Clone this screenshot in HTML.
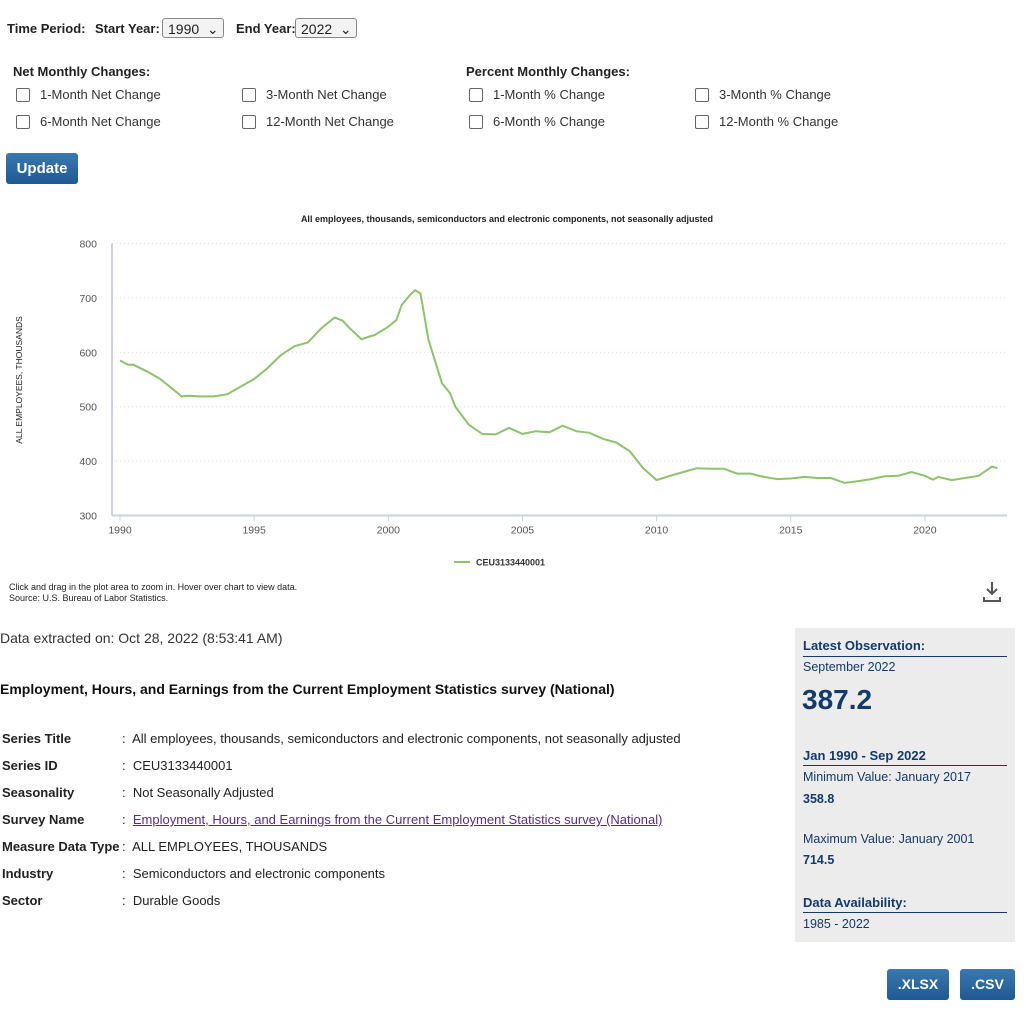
<!DOCTYPE html>
<html><head><meta charset="utf-8"><style>
body{margin:0;width:1026px;height:1016px;background:#fff;font-family:"Liberation Sans",sans-serif;color:#222;position:relative;overflow:hidden}
.a{position:absolute;white-space:nowrap}
.b{font-weight:bold;font-size:13px}
.sel{position:absolute;height:20px;border:1px solid #888;border-radius:3px;background:#f3f3f3;font-size:14px;line-height:20px;padding-left:5px;box-sizing:border-box}
.cb{position:absolute;width:12px;height:12px;border:1px solid #666;border-radius:2px;background:#fff}
.lbl{position:absolute;font-size:13px;color:#333}
.btn{position:absolute;background:linear-gradient(#3a78b0,#1f5a92);color:#fff;font-weight:bold;border-radius:3px;text-align:center}
.k{position:absolute;left:2px;font-weight:bold;font-size:13px}
.v{position:absolute;left:122px;font-size:13px}
</style></head><body>
<div class="a b" style="left:7px;top:21px">Time Period:</div>
<div class="a b" style="left:95px;top:21px">Start Year:</div>
<div class="sel" style="left:162px;top:18px;width:62px">1990 &nbsp;⌄</div>
<div class="a b" style="left:236px;top:21px">End Year:</div>
<div class="sel" style="left:295px;top:18px;width:62px">2022 &nbsp;⌄</div>
<div class="a b" style="left:13px;top:64px">Net Monthly Changes:</div>
<div class="a b" style="left:466px;top:64px">Percent Monthly Changes:</div>
<div class="cb" style="left:16px;top:88px"></div><div class="lbl" style="left:40px;top:87px">1-Month Net Change</div>
<div class="cb" style="left:242px;top:88px"></div><div class="lbl" style="left:266px;top:87px">3-Month Net Change</div>
<div class="cb" style="left:469px;top:88px"></div><div class="lbl" style="left:493px;top:87px">1-Month % Change</div>
<div class="cb" style="left:695px;top:88px"></div><div class="lbl" style="left:719px;top:87px">3-Month % Change</div>
<div class="cb" style="left:16px;top:115px"></div><div class="lbl" style="left:40px;top:114px">6-Month Net Change</div>
<div class="cb" style="left:242px;top:115px"></div><div class="lbl" style="left:266px;top:114px">12-Month Net Change</div>
<div class="cb" style="left:469px;top:115px"></div><div class="lbl" style="left:493px;top:114px">6-Month % Change</div>
<div class="cb" style="left:695px;top:115px"></div><div class="lbl" style="left:719px;top:114px">12-Month % Change</div>
<div class="btn" style="left:6px;top:153px;width:72px;height:31px;line-height:31px;font-size:15px">Update</div>

<svg class="a" style="left:0;top:200px" width="1026" height="420" id="chart">
<text x="507" y="22" text-anchor="middle" font-size="9" font-weight="bold" fill="#222">All employees, thousands, semiconductors and electronic components, not seasonally adjusted</text>
<text transform="translate(22,180) rotate(-90)" text-anchor="middle" font-size="8.5" fill="#222">ALL EMPLOYEES, THOUSANDS</text>
<g id="grid"></g><g id="xt"></g>
<path id="line" fill="none" stroke="#8cc46a" stroke-width="2"/>
<line x1="454" y1="362" x2="470" y2="362" stroke="#8cc46a" stroke-width="2"/>
<text x="476" y="365.5" font-size="9" font-weight="bold" fill="#333">CEU3133440001</text>
</svg>
<div class="a" style="left:9px;top:582px;font-size:9px;line-height:11px">Click and drag in the plot area to zoom in. Hover over chart to view data.<br>Source: U.S. Bureau of Labor Statistics.</div>
<svg class="a" style="left:982px;top:581px" width="20" height="22"><path d="M10 1v12M5 8l5 5 5-5M2 16v4h16v-4" stroke="#555" stroke-width="2" fill="none"/></svg>

<div class="a" style="left:0;top:630px;font-size:14px;color:#333">Data extracted on: Oct 28, 2022 (8:53:41 AM)</div>
<div class="a" style="left:0;top:681px;font-size:14px;font-weight:bold;color:#111">Employment, Hours, and Earnings from the Current Employment Statistics survey (National)</div>
<div class="a" style="left:0;top:731px;width:780px;height:200px">
<div class="k" style="top:0">Series Title</div><div class="v" style="top:0">:&nbsp; All employees, thousands, semiconductors and electronic components, not seasonally adjusted</div>
<div class="k" style="top:27px">Series ID</div><div class="v" style="top:27px">:&nbsp; CEU3133440001</div>
<div class="k" style="top:54px">Seasonality</div><div class="v" style="top:54px">:&nbsp; Not Seasonally Adjusted</div>
<div class="k" style="top:81px">Survey Name</div><div class="v" style="top:81px">:&nbsp; <span style="color:#5b2a86;text-decoration:underline">Employment, Hours, and Earnings from the Current Employment Statistics survey (National)</span></div>
<div class="k" style="top:108px">Measure Data Type</div><div class="v" style="top:108px">:&nbsp; ALL EMPLOYEES, THOUSANDS</div>
<div class="k" style="top:135px">Industry</div><div class="v" style="top:135px">:&nbsp; Semiconductors and electronic components</div>
<div class="k" style="top:162px">Sector</div><div class="v" style="top:162px">:&nbsp; Durable Goods</div>
</div>

<div class="a" style="left:795px;top:628px;width:220px;height:314px;background:#ececec;color:#123a6b">
<div class="a" style="left:8px;top:10px;font-weight:bold;font-size:13px">Latest Observation:</div>
<div class="a" style="left:8px;top:28px;width:204px;border-top:1px solid #123a6b"></div>
<div class="a" style="left:8px;top:32px;font-size:12.5px">September 2022</div>
<div class="a" style="left:7px;top:56px;font-size:28px;font-weight:bold">387.2</div>
<div class="a" style="left:8px;top:120px;font-weight:bold;font-size:13px">Jan 1990 - Sep 2022</div>
<div class="a" style="left:8px;top:137px;width:204px;border-top:1px solid #123a6b"></div>
<div class="a" style="left:8px;top:142px;font-size:12.5px">Minimum Value: January 2017</div>
<div class="a" style="left:8px;top:164px;font-size:12.5px;font-weight:bold">358.8</div>
<div class="a" style="left:8px;top:204px;font-size:12.5px">Maximum Value: January 2001</div>
<div class="a" style="left:8px;top:225px;font-size:12.5px;font-weight:bold">714.5</div>
<div class="a" style="left:8px;top:267px;font-weight:bold;font-size:13px">Data Availability:</div>
<div class="a" style="left:8px;top:284px;width:204px;border-top:1px solid #123a6b"></div>
<div class="a" style="left:8px;top:289px;font-size:12.5px">1985 - 2022</div>
</div>
<div class="btn" style="left:887px;top:969px;width:62px;height:31px;line-height:31px;font-size:14px">.XLSX</div>
<div class="btn" style="left:960px;top:969px;width:55px;height:31px;line-height:31px;font-size:14px">.CSV</div>

<script>
const years=[1990,1990.3,1990.5,1991,1991.5,1992,1992.3,1992.5,1993,1993.5,1994,1994.5,1995,1995.5,1996,1996.5,1997,1997.5,1998,1998.3,1998.5,1999,1999.3,1999.5,2000,2000.3,2000.5,2000.8,2001,2001.2,2001.5,2002,2002.3,2002.5,2003,2003.5,2004,2004.5,2005,2005.5,2006,2006.5,2007,2007.5,2008,2008.5,2009,2009.5,2010,2010.5,2011,2011.5,2012,2012.5,2013,2013.5,2014,2014.5,2015,2015.5,2016,2016.5,2017,2017.5,2018,2018.5,2019,2019.5,2020,2020.3,2020.5,2021,2021.5,2022,2022.3,2022.5,2022.7];
const values=[585,577,577,565,551,531,519,520,519,519,523,537,551,571,595,611,618,644,664,658,647,624,629,632,647,659,687,705,714,708,623,543,525,500,467,450,449,461,450,455,453,465,455,452,441,434,418,387,365,373,380,387,386,386,377,377,371,367,368,371,369,369,360,363,367,372,373,380,373,366,371,365,369,373,383,390,387];
const yTicks=[300,400,500,600,700,800];
const xTicks=[1990,1995,2000,2005,2010,2015,2020];
const ns="http://www.w3.org/2000/svg";
const X=y=>120+(y-1990)*26.83;
const Y=v=>43.5+(800-v)*0.544;
const grid=document.getElementById('grid'),xt=document.getElementById('xt');
yTicks.forEach(t=>{
 const l=document.createElementNS(ns,'line');
 l.setAttribute('x1',112);l.setAttribute('x2',1007);l.setAttribute('y1',Y(t));l.setAttribute('y2',Y(t));
 l.setAttribute('stroke',t===300?'#c9d1e3':'#ddd');l.setAttribute('stroke-width',t===300?2:1);
 if(t!==300)l.setAttribute('stroke-dasharray','1,3');
 
 
 grid.appendChild(l);
 const tx=document.createElementNS(ns,'text');
 tx.setAttribute('x',97);tx.setAttribute('y',Y(t)+4);tx.setAttribute('text-anchor','end');tx.setAttribute('font-size','10.5');tx.setAttribute('fill','#555');
 tx.textContent=t;
 
 
 grid.appendChild(tx);
});
const ax=document.createElementNS(ns,'line');
ax.setAttribute('x1',112);ax.setAttribute('x2',112);ax.setAttribute('y1',Y(800));ax.setAttribute('y2',Y(300));ax.setAttribute('stroke','#c9d1e3');ax.setAttribute('stroke-width',2);


grid.appendChild(ax);
xTicks.forEach(t=>{
 const l=document.createElementNS(ns,'line');
 l.setAttribute('x1',X(t));l.setAttribute('x2',X(t));l.setAttribute('y1',Y(300));l.setAttribute('y2',Y(300)+6);l.setAttribute('stroke','#c9d1e3');
 
 
 xt.appendChild(l);
 const tx=document.createElementNS(ns,'text');
 tx.setAttribute('x',X(t));tx.setAttribute('y',Y(300)+18);tx.setAttribute('text-anchor','middle');tx.setAttribute('font-size','10.5');tx.setAttribute('fill','#555');
 tx.textContent=t;
 
 
 xt.appendChild(tx);
});
document.getElementById('line').setAttribute('d',years.map((y,i)=>(i?'L':'M')+X(y).toFixed(1)+','+Y(values[i]).toFixed(1)).join(''));
</script>
</body></html>
